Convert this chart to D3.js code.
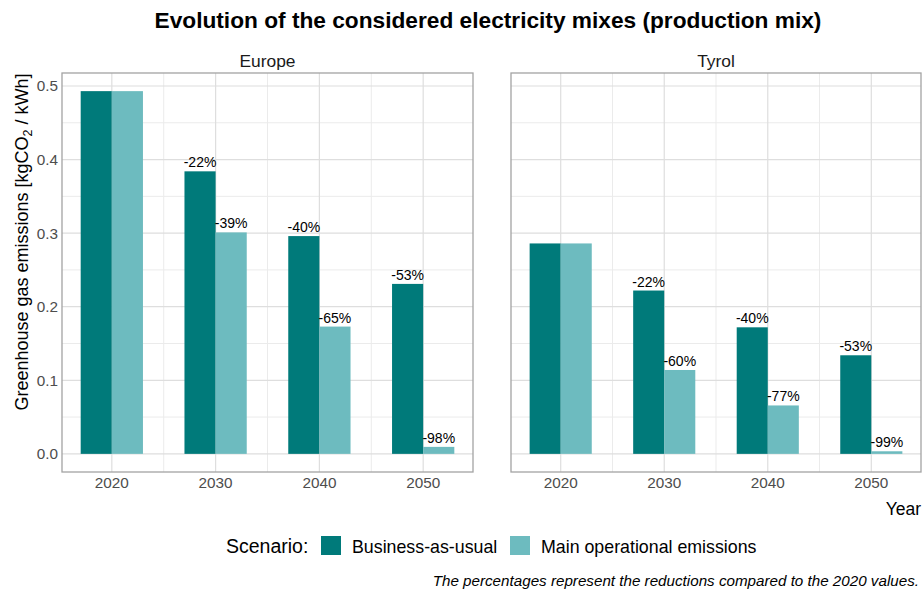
<!DOCTYPE html>
<html><head><meta charset="utf-8">
<script src="https://cdn.jsdelivr.net/npm/d3@7"></script>
<style>body{margin:0;background:#fff}svg{display:block;font-family:"Liberation Sans",Arial,sans-serif}</style>
</head><body><svg id="c" width="922" height="592"></svg>
<script>
const regions = ["Europe", "Tyrol"];
const years = [2020, 2030, 2040, 2050];
const scenarios = ["Business-as-usual", "Main operational emissions"];
const europeBAU = [0.493, 0.384, 0.296, 0.231];
const europeMOE = [0.493, 0.301, 0.173, 0.0095];
const tyrolBAU = [0.286, 0.222, 0.172, 0.134];
const tyrolMOE = [0.286, 0.114, 0.0658, 0.0035];
const europeBAULabels = ["", "-22%", "-40%", "-53%"];
const europeMOELabels = ["", "-39%", "-65%", "-98%"];
const tyrolBAULabels = ["", "-22%", "-40%", "-53%"];
const tyrolMOELabels = ["", "-60%", "-77%", "-99%"];
const yTicks = [0, 0.1, 0.2, 0.3, 0.4, 0.5];
const colors = ["#007a7a", "#6dbbbf"];

const series = {
  Europe: [europeBAU, europeMOE],
  Tyrol: [tyrolBAU, tyrolMOE]
};
const labels = {
  Europe: [europeBAULabels, europeMOELabels],
  Tyrol: [tyrolBAULabels, tyrolMOELabels]
};

const svg = d3.select("#c");
const pTop = 73, pBottom = 472;
const panels = [{name: regions[0], x0: 62, x1: 473}, {name: regions[1], x0: 511, x1: 921}];
const dodge = 6, barW = 3;
const ymax = 0.493;
const y = d3.scaleLinear().domain([-ymax * 0.05, ymax * 1.05]).range([pBottom, pTop]);
const xdom = [2017, 2053];
const xr = xdom[1] - xdom[0];

// Title
svg.append("text").attr("x", 488).attr("y", 28).attr("text-anchor", "middle")
  .attr("font-size", 22.7).attr("font-weight", "bold").attr("fill", "#000")
  .text("Evolution of the considered electricity mixes (production mix)");

panels.forEach((p, pi) => {
  const x = d3.scaleLinear().domain([xdom[0] - xr * 0.05, xdom[1] + xr * 0.05]).range([p.x0, p.x1]);
  const g = svg.append("g");
  g.append("text").attr("x", (p.x0 + p.x1) / 2).attr("y", 67).attr("text-anchor", "middle")
    .attr("font-size", 17.4).attr("fill", "#1a1a1a").text(p.name);
  const yMinor = [0.05, 0.15, 0.25, 0.35, 0.45];
  g.selectAll(".ymin").data(yMinor).join("line")
    .attr("x1", p.x0).attr("x2", p.x1).attr("y1", d => y(d)).attr("y2", d => y(d))
    .attr("stroke", "#ebebeb").attr("stroke-width", 1);
  const xMinor = [2025, 2035, 2045];
  g.selectAll(".xmin").data(xMinor).join("line")
    .attr("y1", pTop).attr("y2", pBottom).attr("x1", d => x(d)).attr("x2", d => x(d))
    .attr("stroke", "#ebebeb").attr("stroke-width", 1);
  g.selectAll(".ymaj").data(yTicks).join("line")
    .attr("x1", p.x0).attr("x2", p.x1).attr("y1", d => y(d)).attr("y2", d => y(d))
    .attr("stroke", "#dedede").attr("stroke-width", 1.2);
  g.selectAll(".xmaj").data(years).join("line")
    .attr("y1", pTop).attr("y2", pBottom).attr("x1", d => x(d)).attr("x2", d => x(d))
    .attr("stroke", "#dedede").attr("stroke-width", 1.2);
  series[p.name].forEach((vals, si) => {
    const off = (si === 0 ? -dodge / 4 : dodge / 4);
    g.selectAll(".bar" + si).data(vals).join("rect")
      .attr("x", (d, i) => x(years[i] + off - barW / 2))
      .attr("width", (d, i) => x(years[i] + off + barW / 2) - x(years[i] + off - barW / 2))
      .attr("y", d => y(d)).attr("height", d => y(0) - y(d))
      .attr("fill", colors[si]);
    g.selectAll(".lab" + si).data(vals).join("text")
      .attr("x", (d, i) => x(years[i] + off)).attr("y", d => y(d) - 4)
      .attr("text-anchor", "middle").attr("font-size", 14).attr("fill", "#000")
      .text((d, i) => labels[p.name][si][i]);
  });
  g.append("rect").attr("x", p.x0).attr("y", pTop).attr("width", p.x1 - p.x0).attr("height", pBottom - pTop)
    .attr("fill", "none").attr("stroke", "#a3a3a3").attr("stroke-width", 1.3);
  g.selectAll(".xt").data(years).join("text")
    .attr("x", d => x(d)).attr("y", 488).attr("text-anchor", "middle")
    .attr("font-size", 15.3).attr("fill", "#4d4d4d").text(d => d);
  if (pi === 0) {
    g.selectAll(".yt").data(yTicks).join("text")
      .attr("x", 58).attr("y", d => y(d) + 5.5).attr("text-anchor", "end")
      .attr("font-size", 15.3).attr("fill", "#4d4d4d").text(d => d3.format(".1f")(d));
  }
});

const yt = svg.append("text").attr("transform", "translate(28,242) rotate(-90)")
  .attr("text-anchor", "middle").attr("font-size", 18).attr("fill", "#000");
yt.append("tspan").text("Greenhouse gas emissions [kgCO");
yt.append("tspan").attr("font-size", 12.5).attr("dy", 4).text("2");
yt.append("tspan").attr("dy", -4).text(" / kWh]");

svg.append("text").attr("x", 921).attr("y", 515).attr("text-anchor", "end")
  .attr("font-size", 17.5).attr("fill", "#000").text("Year");

const lg = svg.append("g");
lg.append("text").attr("x", 226).attr("y", 553).attr("font-size", 19.5).attr("fill", "#000").text("Scenario:");
const keyX = [321, 510];
scenarios.forEach((s, i) => {
  lg.append("rect").attr("x", keyX[i]).attr("y", 536).attr("width", 20).attr("height", 19).attr("fill", colors[i]);
  lg.append("text").attr("x", keyX[i] + 31).attr("y", 553).attr("font-size", 17.8).attr("fill", "#000").text(s);
});

svg.append("text").attr("x", 919).attr("y", 586).attr("text-anchor", "end")
  .attr("font-size", 15.2).attr("font-style", "italic").attr("fill", "#000")
  .text("The percentages represent the reductions compared to the 2020 values.");
</script></body></html>
